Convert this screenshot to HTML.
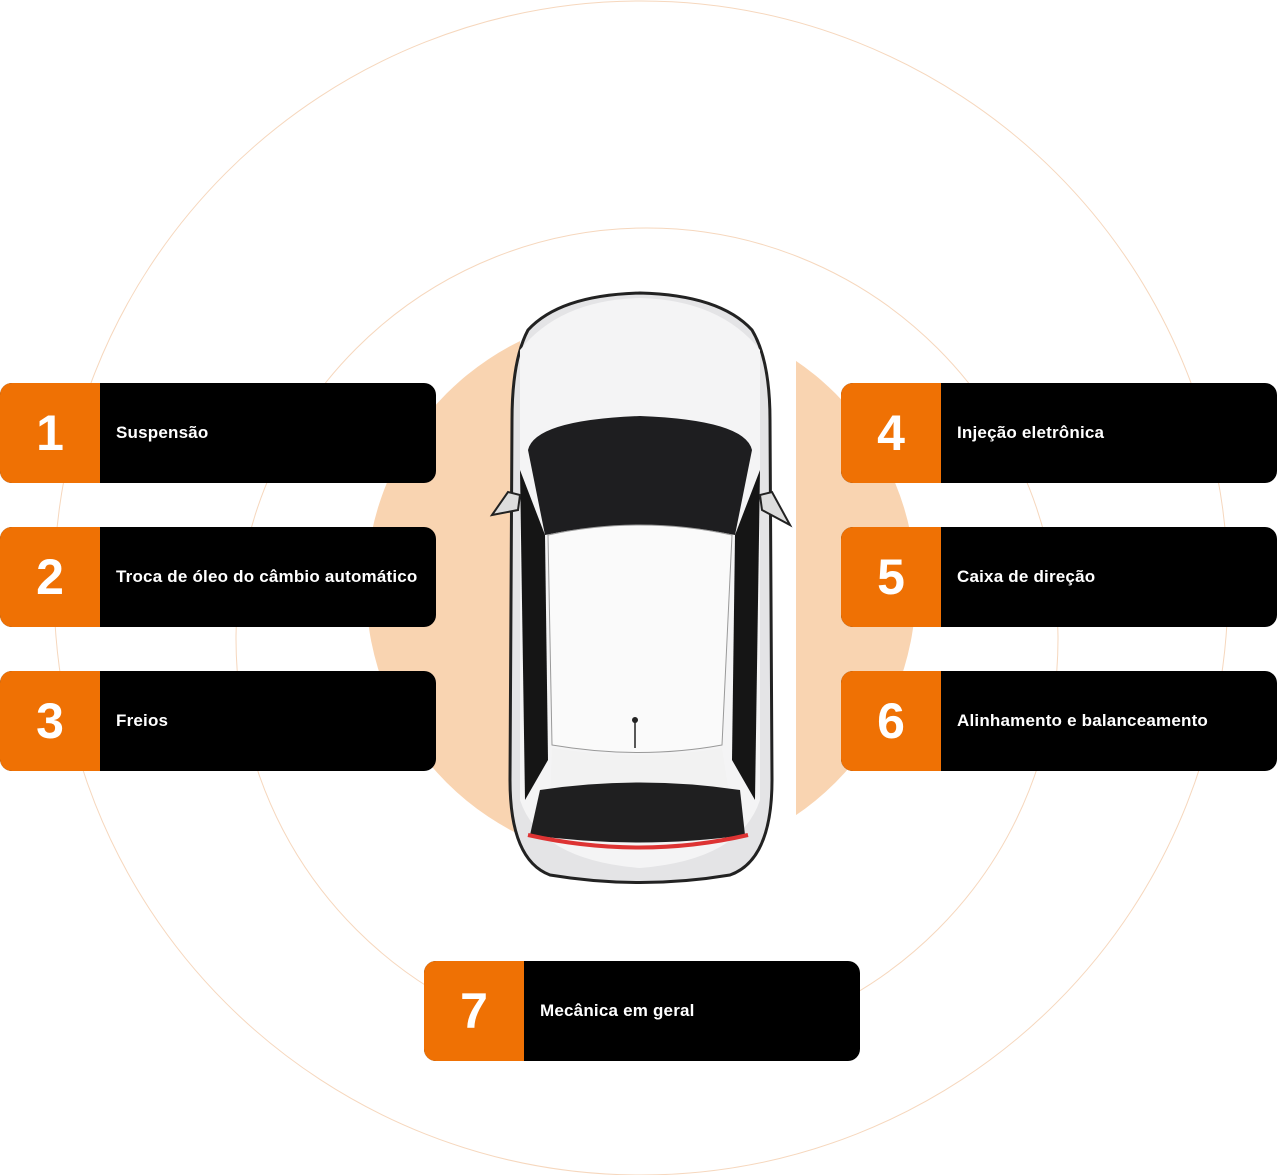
<!DOCTYPE html>
<html><head><meta charset="utf-8"><style>
html,body{margin:0;padding:0;background:#fff;}
body{width:1277px;height:1175px;position:relative;overflow:hidden;font-family:"Liberation Sans",sans-serif;}
.box{position:absolute;width:436px;height:100px;background:#000;border-radius:12px;overflow:hidden;}
.box .n{position:absolute;left:0;top:0;width:100px;height:100px;background:#ef7104;color:#fff;font-weight:bold;font-size:50px;line-height:100px;text-align:center;}
.box .t{position:absolute;left:116px;top:0;line-height:100px;color:#fff;font-weight:bold;font-size:17px;letter-spacing:0.2px;}
svg{position:absolute;left:0;top:0;}
</style></head><body>
<svg width="1277" height="1175">
<circle cx="641" cy="588" r="587" fill="none" stroke="#f6d7bd" stroke-width="1"/>
<circle cx="647" cy="639" r="411" fill="none" stroke="#f6d7bd" stroke-width="1"/>
<circle cx="641" cy="588" r="275" fill="#f9d4b1"/>
<rect x="520" y="288" width="276" height="598" fill="#fff"/>
<path d="M528 330 Q560 295 640 293 Q720 295 752 330 Q770 360 770 420 L772 780 Q772 860 730 875 Q640 890 550 875 Q510 860 510 780 L512 420 Q512 360 528 330Z" fill="#e4e4e6" stroke="#222" stroke-width="3"/>
<path d="M520 350 Q560 300 640 298 Q720 300 760 350 L760 800 Q740 860 640 868 Q540 860 520 800Z" fill="#f4f4f5"/>
<path d="M528 450 Q535 420 640 416 Q745 420 752 450 L735 535 Q640 515 545 535Z" fill="#1e1e20"/>
<path d="M520 470 L545 535 L548 760 L525 800Z" fill="#151515"/>
<path d="M760 470 L735 535 L732 760 L755 800Z" fill="#151515"/>
<path d="M548 535 Q640 515 732 535 L722 745 Q640 760 552 745Z" fill="#fafafa" stroke="#999" stroke-width="1"/>
<path d="M552 748 Q640 762 722 748 L730 800 Q640 790 550 800Z" fill="#f2f2f2"/>
<path d="M540 790 Q640 775 740 790 L745 835 Q640 850 530 835Z" fill="#1f1f20"/>
<path d="M528 835 Q640 860 748 835" fill="none" stroke="#d33" stroke-width="4"/>
<path d="M492 515 L508 492 L520 495 L518 510Z" fill="#ddd" stroke="#222" stroke-width="2"/>
<path d="M790 525 L772 492 L760 495 L762 510Z" fill="#ddd" stroke="#222" stroke-width="2"/>
<circle cx="635" cy="720" r="3" fill="#222"/><line x1="635" y1="720" x2="635" y2="748" stroke="#222" stroke-width="1.5"/>
</svg>
<div class="box" style="left:0;top:383px"><div class="n">1</div><div class="t">Suspensão</div></div>
<div class="box" style="left:0;top:527px"><div class="n">2</div><div class="t">Troca de óleo do câmbio automático</div></div>
<div class="box" style="left:0;top:671px"><div class="n">3</div><div class="t">Freios</div></div>
<div class="box" style="left:841px;top:383px"><div class="n">4</div><div class="t">Injeção eletrônica</div></div>
<div class="box" style="left:841px;top:527px"><div class="n">5</div><div class="t">Caixa de direção</div></div>
<div class="box" style="left:841px;top:671px"><div class="n">6</div><div class="t">Alinhamento e balanceamento</div></div>
<div class="box" style="left:424px;top:961px"><div class="n">7</div><div class="t">Mecânica em geral</div></div>
</body></html>
